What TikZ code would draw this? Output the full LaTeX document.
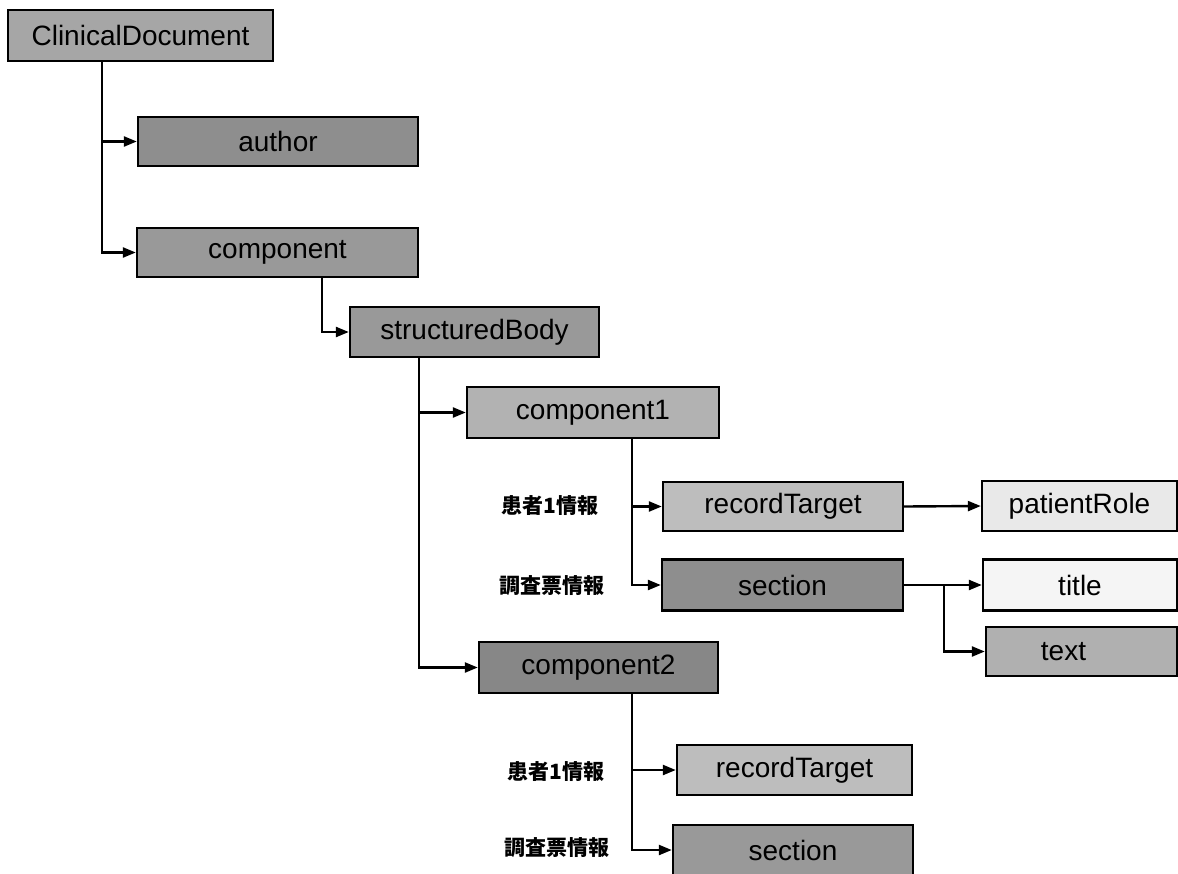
\documentclass[tikz,border=0pt]{standalone}
\usepackage{fontspec}
\setmainfont{Liberation Sans}
\newfontfamily\jpfont{Noto Sans CJK JP}
\usetikzlibrary{arrows.meta,calc}
\definecolor{gA}{HTML}{A6A6A6}
\definecolor{gB}{HTML}{8E8E8E}
\definecolor{gC}{HTML}{999999}
\definecolor{gD}{HTML}{B2B2B2}
\definecolor{gE}{HTML}{BDBDBD}
\definecolor{gF}{HTML}{E9E9E9}
\definecolor{gG}{HTML}{F5F5F5}
\definecolor{gH}{HTML}{B0B0B0}
\definecolor{gI}{HTML}{878787}
\tikzset{
  box/.style={draw=black, line width=2.4pt, rectangle, inner sep=0pt,
    font=\fontsize{28}{30}\selectfont, text=black},
  arr/.style={line width=2.4pt, -{Triangle[length=13pt,width=10pt]}},
  jlabel/.style={font=\jpfont\bfseries\fontsize{21}{23}\selectfont, inner sep=0pt}
}
\begin{document}
\begin{tikzpicture}[x=1pt,y=-1pt]
\useasboundingbox[fill=white] (0,0) rectangle (1178,873);
% nodes
\node[box, fill=gA, minimum width=265pt, minimum height=51pt] (cd) at (140.5,35.5) {ClinicalDocument};
\node[box, fill=gB, minimum width=280pt, minimum height=49pt] (author) at (278,141.5) {author};
\node[box, fill=gC, minimum width=281pt, minimum height=49pt] (comp) at (277.5,252.5) {component};
\node[box, fill=gC, minimum width=249pt, minimum height=50pt] (sb) at (474.5,332) {structuredBody};
\node[box, fill=gD, minimum width=252pt, minimum height=51pt] (c1) at (593,412.5) {component1};
\node[box, fill=gE, minimum width=240pt, minimum height=49pt] (rt1) at (783,506.5) {recordTarget};
\node[box, fill=gF, minimum width=195pt, minimum height=50pt] (pr) at (1079.5,506) {patientRole};
\node[box, fill=gB, minimum width=241pt, minimum height=51pt] (sec1) at (782.5,585) {section};
\node[box, fill=gG, minimum width=194pt, minimum height=51pt] (title) at (1080,585) {title};
\node[box, fill=gH, minimum width=191pt, minimum height=49pt] (text) at (1081.5,651.5) {text\hspace*{36pt}};
\node[box, fill=gI, minimum width=239pt, minimum height=51pt] (c2) at (598.5,667.5) {component2};
\node[box, fill=gE, minimum width=235pt, minimum height=50pt] (rt2) at (794.5,770) {recordTarget};
\node[box, fill=gC, minimum width=240pt, minimum height=50pt] (sec2) at (793,850) {section};
% labels
\node[jlabel] (l1) at (550,506) {患者1情報};
\node[jlabel] (l2) at (552,586) {調査票情報};
\node[jlabel] (l3) at (556,772) {患者1情報};
\node[jlabel] (l4) at (557,848) {調査票情報};
% connectors
\draw[arr] ([xshift=95pt]cd.south west) |- (author.west);
\draw[arr] ([xshift=95pt]cd.south west) |- (comp.west);
\draw[arr] ([xshift=186pt]comp.south west) |- (sb.west);
\draw[arr] ([xshift=70pt]sb.south west) |- (c1.west);
\draw[arr] ([xshift=70pt]sb.south west) |- (c2.west);
\draw[arr] ([xshift=166pt]c1.south west) |- (rt1.west);
\draw[arr] ([xshift=166pt]c1.south west) |- (sec1.west);
\draw[arr] (rt1.east) -- (pr.west);
\draw[arr] (sec1.east) -- (title.west);
\draw[arr] ([xshift=40pt]sec1.east) |- (text.west);
\draw[arr] ([xshift=154pt]c2.south west) |- (rt2.west);
\draw[arr] ([xshift=154pt]c2.south west) |- (sec2.west);
\end{tikzpicture}
\end{document}
